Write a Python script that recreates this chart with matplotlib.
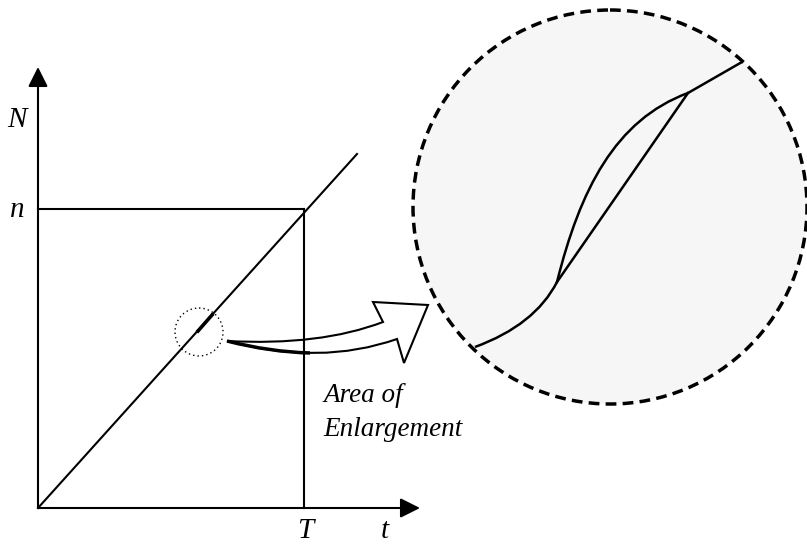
import numpy as np
import matplotlib.pyplot as plt
from matplotlib.patches import Circle, PathPatch, FancyArrowPatch
from matplotlib.path import Path

# geometria del dibujo (coordenadas en pixeles de la imagen)
origen = (38, 508)
puntaEjeY = (38, 67)
puntaEjeX = (420, 508)
valorT = 304
valorN = 209
diagonal = [(38, 508), (357, 154)]

circuloChico = (199, 332)
radioChico = 24
tramoGrueso = [(198, 331), (212, 315)]

circuloGrande = (610, 207)
radioGrande = 197

# curva dentro del circulo grande (puntos de control)
curvaVertices = [(475, 347), (535, 325), (557, 282),
                 (580, 190), (615, 120), (688, 93),
                 (742, 62)]
curvaCodigos = [Path.MOVETO, Path.CURVE3, Path.CURVE3,
                Path.CURVE4, Path.CURVE4, Path.CURVE4,
                Path.LINETO]
cuerda = [(557, 282), (688, 93)]

# flecha curva gruesa
flechaVertices = [(227, 341), (320, 346), (383, 322),
                  (373, 302), (428, 305), (404, 363), (397, 339),
                  (320, 366), (227, 341), (227, 341)]
flechaCodigos = [Path.MOVETO, Path.CURVE3, Path.CURVE3,
                 Path.LINETO, Path.LINETO, Path.LINETO, Path.LINETO,
                 Path.CURVE3, Path.CURVE3, Path.CLOSEPOLY]
sombraFlecha = [(227, 341), (270, 352), (310, 353)]

etiquetas = [("N", 17, 120), ("n", 17, 210), ("T", 305, 531), ("t", 385, 531)]
textoArea = ["Area of", "Enlargement"]
posTextoArea = [(323, 395), (323, 430)]

fuente = "Liberation Serif"

fig = plt.figure(figsize=(8.07, 5.47), dpi=100)
ax = fig.add_axes([0, 0, 1, 1])
ax.set_xlim(0, 807)
ax.set_ylim(547, 0)
ax.axis('off')

# ejes con flecha
for punta in [puntaEjeY, puntaEjeX]:
    ax.add_patch(FancyArrowPatch(origen, punta, arrowstyle='-|>,head_length=0.6,head_width=0.3',
                                 mutation_scale=20, lw=1.5, color='k', shrinkA=0, shrinkB=0))

# lineas n y T
ax.plot([origen[0], valorT], [valorN, valorN], color='k', lw=1.5)
ax.plot([valorT, valorT], [valorN, origen[1]], color='k', lw=1.5)

# recta diagonal
ax.plot([p[0] for p in diagonal], [p[1] for p in diagonal], color='k', lw=1.5)
ax.plot([p[0] for p in tramoGrueso], [p[1] for p in tramoGrueso], color='k', lw=2.6)

# circulo chico punteado
ax.add_patch(Circle(circuloChico, radioChico, fill=False, ec='k', lw=1, ls=(0, (1, 2.2))))

# circulo grande
ax.add_patch(Circle(circuloGrande, radioGrande, fc='#f6f6f6', ec='k', lw=2.5, ls=(0, (3.1, 1.8))))
ax.add_patch(PathPatch(Path(curvaVertices, curvaCodigos), fill=False, ec='k', lw=1.8))
ax.plot([p[0] for p in cuerda], [p[1] for p in cuerda], color='k', lw=1.8)

# flecha
ax.add_patch(PathPatch(Path(flechaVertices, flechaCodigos), fc='white', ec='k', lw=1.5, joinstyle='miter'))
ax.add_patch(PathPatch(Path(sombraFlecha, [Path.MOVETO, Path.CURVE3, Path.CURVE3]),
                       fill=False, ec='k', lw=2.5))

for texto, x, y in etiquetas:
    ax.text(x, y, texto, fontsize=21, fontstyle='italic', family=fuente, ha='center', va='center')

for texto, (x, y) in zip(textoArea, posTextoArea):
    ax.text(x, y, texto, fontsize=19.5, fontstyle='italic', family=fuente, ha='left', va='center')

plt.savefig('out.png', dpi=100)
